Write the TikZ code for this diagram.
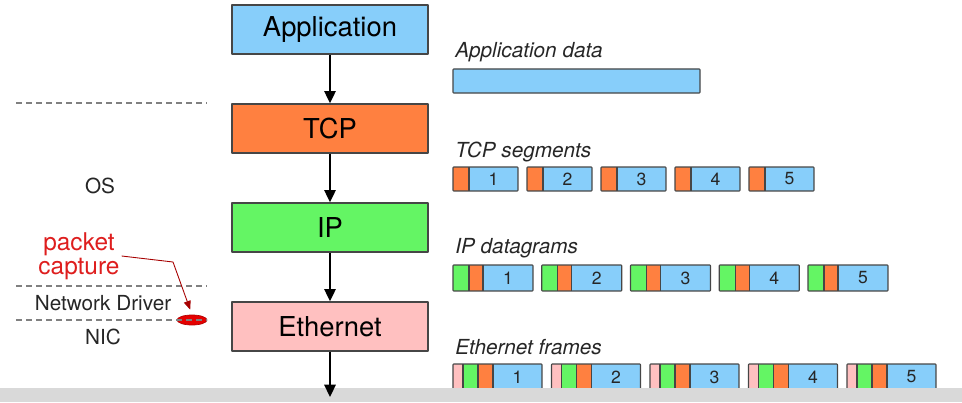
\documentclass[tikz,border=0pt]{standalone}
\usepackage{fontspec}
\setmainfont{TeX Gyre Heros}
\usetikzlibrary{arrows.meta,shapes.geometric}
\definecolor{appblue}{RGB}{135,206,250}
\definecolor{tcporange}{RGB}{255,128,64}
\definecolor{ipgreen}{RGB}{100,245,100}
\definecolor{ethpink}{RGB}{255,192,192}
\definecolor{framegray}{RGB}{70,70,70}
\definecolor{capred}{RGB}{222,30,30}
\definecolor{bandgray}{RGB}{217,217,217}
\begin{document}
\begin{tikzpicture}[x=0.02cm,y=-0.02cm,>={Triangle[width=6.5pt,length=7pt]},line join=round]
	\tikzset{layer/.style={draw=framegray,line width=0.8pt,minimum width=3.92cm,minimum height=0.98cm,inner sep=0pt,font=\fontsize{15.6}{18}\selectfont},
		side/.style={font=\fontsize{11.8}{14}\selectfont,text=black!85},
		caption/.style={anchor=west,inner sep=0pt,font=\fontsize{11.8}{14}\selectfont\itshape,text=black!85},
		pkt/.style={draw=framegray,line width=0.6pt,rounded corners=0.4pt},
		num/.style={font=\fontsize{10}{12}\selectfont,text=black!85},
		sep/.style={draw=black!50,line width=0.6pt,dash pattern=on 3.4pt off 2.3pt}}
	\useasboundingbox (0,0) rectangle (962,402);
	%%Các tầng
	\node[layer,fill=appblue] (app) at (330,29.5) {Application};
	\node[layer,fill=tcporange] (tcp) at (330,128.5) {TCP};
	\node[layer,fill=ipgreen] (ip) at (330,227.5) {IP};
	\node[layer,fill=ethpink] (eth) at (330,326.5) {Ethernet};
	\draw[->,line width=1pt] (app)--(tcp);
	\draw[->,line width=1pt] (tcp)--(ip);
	\draw[->,line width=1pt] (ip)--(eth);
	%%Bên trái
	\node[side] (os) at (100,186) {OS};
	\node[side] (drv) at (103,303) {Network Driver};
	\node[side] (nic) at (103,337) {NIC};
	\node[ellipse,fill=red!90!black,draw=red!70!black,minimum width=0.6cm,minimum height=0.2cm,inner sep=0pt] (drop) at (192,320) {};
	\draw[sep] (16,103)--(207,103);
	\draw[sep] (16,286)--(207,286);
	\draw[sep] (16,320)--(207,320);
	\node[align=center,text=capred,inner sep=1pt,font=\fontsize{13.9}{13.6}\selectfont] (cap) at (79,256) {packet\\capture};
	\draw[red!65!black,line width=0.5pt,-{Triangle[width=4pt,length=5pt]},shorten >=3pt] (cap.east)--(173,262)--(drop.north);
	%%Dữ liệu bên phải
	\node[caption] (appcap) at (455,52) {Application data};
	\node[caption] (tcpcap) at (455,152) {TCP segments};
	\node[caption] (ipcap) at (455,248) {IP datagrams};
	\node[caption] (ethcap) at (455,347) {Ethernet frames};
	\draw[pkt,fill=appblue] (453,69) rectangle (700,93);
	\foreach \i in {1,...,5}{
		\pgfmathsetmacro\xs{453+(\i-1)*74}
		\fill[appblue] (\xs,167) rectangle ++(65,24);
		\fill[tcporange] (\xs,167) rectangle ++(16,24);
		\draw[framegray,line width=0.6pt] (\xs+16,167)--++(0,24);
		\draw[pkt] (\xs,167) rectangle ++(65,24);
		\node[num] at (\xs+40.5,179) {\i};
	}
	\foreach \i in {1,...,5}{
		\pgfmathsetmacro\xs{453+(\i-1)*88.75}
		\fill[appblue] (\xs,265) rectangle ++(80,26);
		\fill[ipgreen] (\xs,265) rectangle ++(16,26);
		\fill[tcporange] (\xs+16,265) rectangle ++(14,26);
		\draw[framegray,line width=0.6pt] (\xs+16,265)--++(0,26) (\xs+30,265)--++(0,26);
		\draw[pkt] (\xs,265) rectangle ++(80,26);
		\node[num] at (\xs+55,278) {\i};
	}
	\foreach \i in {1,...,5}{
		\pgfmathsetmacro\xs{453+(\i-1)*98.5}
		\fill[appblue] (\xs,364) rectangle ++(89,26);
		\fill[ethpink] (\xs,364) rectangle ++(10,26);
		\fill[ipgreen] (\xs+10,364) rectangle ++(15,26);
		\fill[tcporange] (\xs+25,364) rectangle ++(15,26);
		\draw[framegray,line width=0.6pt] (\xs+10,364)--++(0,26) (\xs+25,364)--++(0,26) (\xs+40,364)--++(0,26);
		\draw[pkt] (\xs,364) rectangle ++(89,26);
		\node[num] at (\xs+64.5,377) {\i};
	}
	%%Dải xám phía dưới
	\fill[bandgray] (0,388) rectangle (962,402);
	\coordinate (wire) at (330,397);
	\draw[->,line width=1pt] (eth)--(wire);
\end{tikzpicture}
\end{document}
